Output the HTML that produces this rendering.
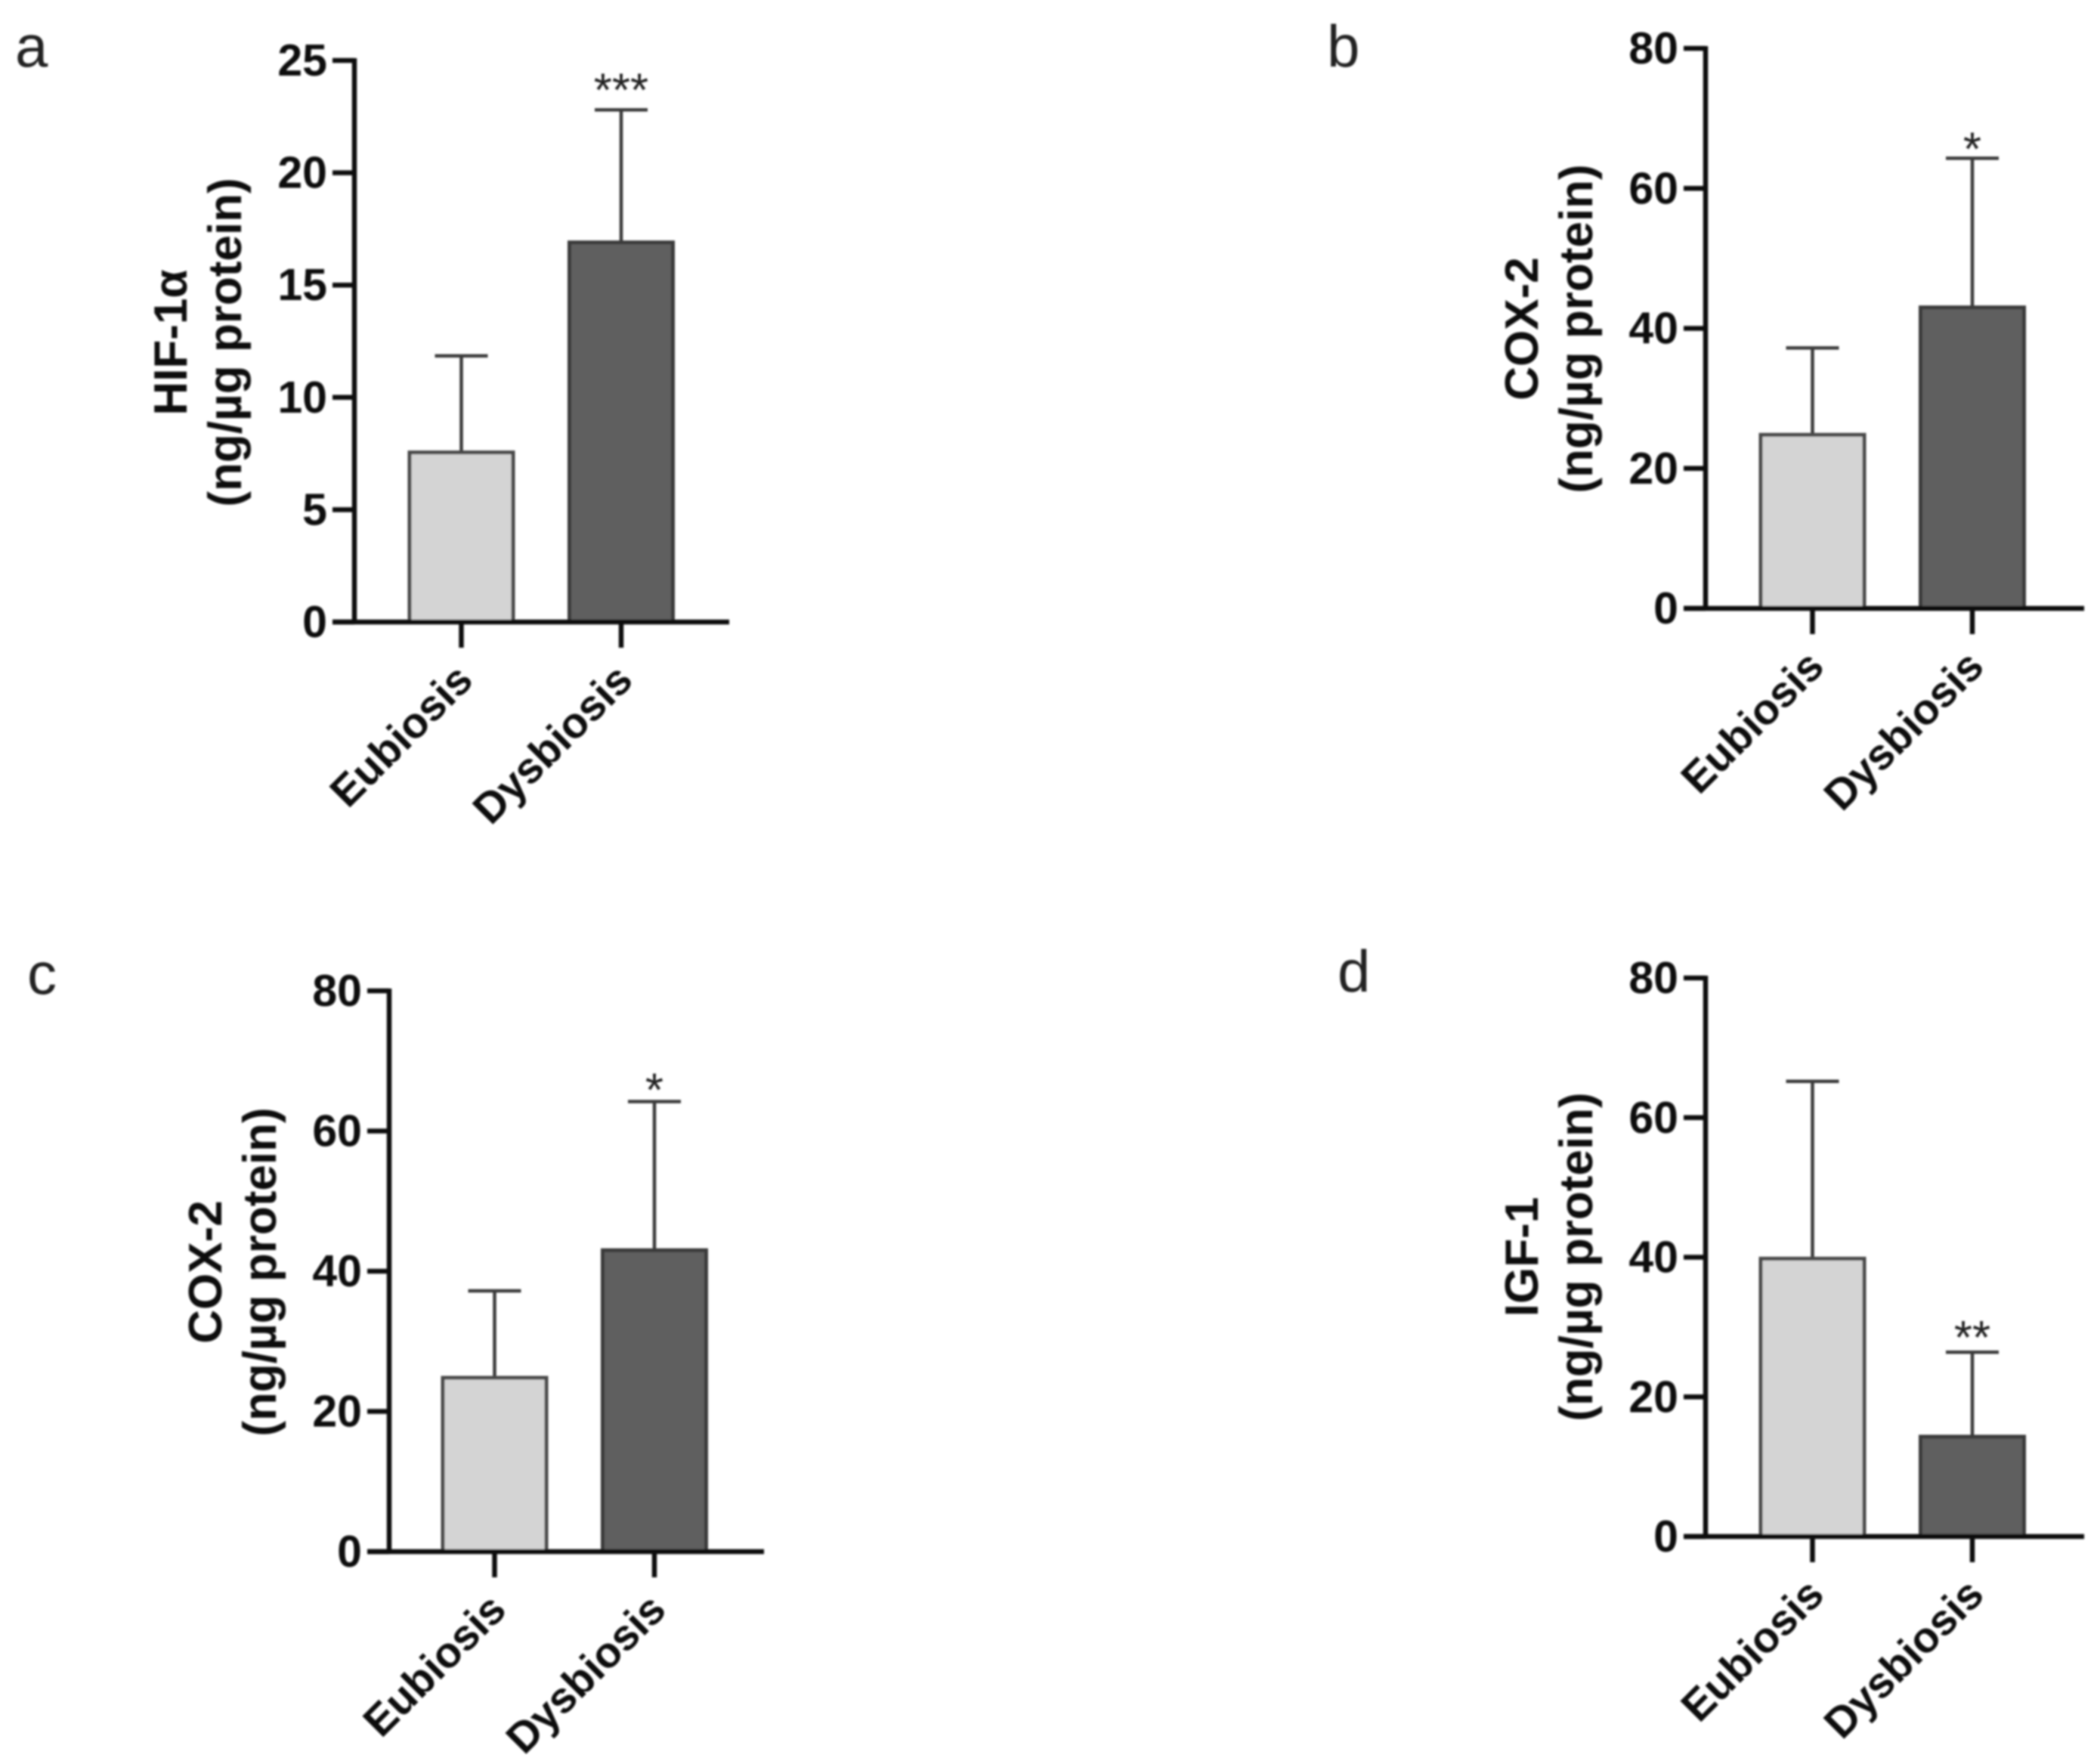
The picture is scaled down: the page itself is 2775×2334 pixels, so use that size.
<!DOCTYPE html>
<html lang="en">
<head>
<meta charset="utf-8">
<title>Eubiosis vs Dysbiosis bar charts</title>
<style>
html,body{margin:0;padding:0;background:#fff;}
svg{display:block;}
text{font-family:"Liberation Sans",sans-serif;}
</style>
</head>
<body>
<svg id="figure" xmlns="http://www.w3.org/2000/svg" width="2775" height="2334" viewBox="0 0 2775 2334">
<defs><filter id="soft" x="-2%" y="-2%" width="104%" height="104%"><feGaussianBlur stdDeviation="1.2"/></filter></defs>
<rect width="2775" height="2334" fill="#fff"/>
<g id="root" filter="url(#soft)"></g>
</svg>
<script>
const categories = ['Eubiosis', 'Dysbiosis'];
const panelLetters = ['a', 'b', 'c', 'd'];
const yTitles = ['HIF-1α', 'COX-2', 'COX-2', 'IGF-1'];
const yUnit = '(ng/µg protein)';
const yTicksA = [0, 5, 10, 15, 20, 25];
const yTicksB = [0, 20, 40, 60, 80];
const yTicksC = [0, 20, 40, 60, 80];
const yTicksD = [0, 20, 40, 60, 80];
const meansA = [7.55, 16.9];
const meansB = [24.8, 43];
const meansC = [24.8, 43];
const meansD = [39.8, 14.3];
const errorTopsA = [11.85, 22.8];
const errorTopsB = [37.2, 64.3];
const errorTopsC = [37.2, 64.2];
const errorTopsD = [65.2, 26.4];
const sigLabelsA = ['', '***'];
const sigLabelsB = ['', '*'];
const sigLabelsC = ['', '*'];
const sigLabelsD = ['', '**'];

const NS = 'http://www.w3.org/2000/svg';
const root = document.getElementById('root');
const frames = [
  {axisX: 469, barShift: 0, y0: 823, yTop: 80, end: 496, letterX: 20, letterY: 88, sigGap: 5, ticks: yTicksA, means: meansA, errs: errorTopsA, sigs: sigLabelsA},
  {axisX: 2257, barShift: 0, y0: 805, yTop: 64, end: 501, letterX: 1756, letterY: 88, sigGap: -9, ticks: yTicksB, means: meansB, errs: errorTopsB, sigs: sigLabelsB},
  {axisX: 515, barShift: -2, y0: 2053, yTop: 1311, end: 496, letterX: 36, letterY: 1315, sigGap: -6, ticks: yTicksC, means: meansC, errs: errorTopsC, sigs: sigLabelsC},
  {axisX: 2257, barShift: 0, y0: 2033, yTop: 1294, end: 501, letterX: 1770, letterY: 1312, sigGap: -2, ticks: yTicksD, means: meansD, errs: errorTopsD, sigs: sigLabelsD}
];
const centerOffsets = [141.5, 353];
const barWidth = 137;
const capWidth = 70;
const barFill = ['#d4d4d4', '#5f5f5f'];
const barStroke = ['#4a4a4a', '#3a3a3a'];

function make(tag, props, parent, txt) {
  const el = document.createElementNS(NS, tag);
  for (const k in props) el.setAttribute(k, props[k]);
  if (txt !== undefined) el.textContent = txt;
  parent.appendChild(el);
  return el;
}

function drawPanel(f, p) {
  const maxV = f.ticks[f.ticks.length - 1];
  const yScale = v => f.y0 - v / maxV * (f.y0 - f.yTop);
  const xScale = i => f.axisX + f.barShift + centerOffsets[i];
  const letter = panelLetters[p];

  const g = make('g', {}, root);
  
  

  const pl = make('text', {x: f.letterX, y: f.letterY, 'font-size': 78, fill: '#222'}, g, letter);
  
  

  categories.forEach((cat, i) => {
    const cx = xScale(i);
    const top = yScale(f.means[i]);
    const errY = yScale(f.errs[i]);

    const stem = make('line', {x1: cx, x2: cx, y1: top, y2: errY, stroke: '#3a3a3a', 'stroke-width': 4.5}, g);
    
    

    const cap = make('line', {x1: cx - capWidth / 2, x2: cx + capWidth / 2, y1: errY, y2: errY, stroke: '#3a3a3a', 'stroke-width': 4.5}, g);
    
    

    const bar = make('rect', {x: cx - barWidth / 2, y: top, width: barWidth, height: f.y0 - top, fill: barFill[i], stroke: barStroke[i], 'stroke-width': 5}, g);
    
    

    if (f.sigs[i]) {
      const sig = make('text', {x: cx, y: errY - f.sigGap, 'text-anchor': 'middle', 'font-size': 62, fill: '#222'}, g, f.sigs[i]);
      
      
    }

    const xt = make('line', {x1: cx, x2: cx, y1: f.y0, y2: f.y0 + 34, stroke: '#111', 'stroke-width': 6.5}, g);
    
    

    const lx = cx + 18, ly = f.y0 + 80;
    const xl = make('text', {x: lx, y: ly, 'text-anchor': 'end', 'font-size': 57, 'font-weight': 700, fill: '#111', transform: 'rotate(-45 ' + lx + ' ' + ly + ')'}, g, cat);
    
    
  });

  const ya = make('line', {x1: f.axisX, x2: f.axisX, y1: f.yTop - 3, y2: f.y0, stroke: '#111', 'stroke-width': 6.5}, g);
  
  

  const xa = make('line', {x1: f.axisX - 29, x2: f.axisX + f.end, y1: f.y0, y2: f.y0, stroke: '#111', 'stroke-width': 6.5}, g);
  
  

  f.ticks.forEach(t => {
    const y = yScale(t);
    const tm = make('line', {x1: f.axisX - 29, x2: f.axisX, y1: y, y2: y, stroke: '#111', 'stroke-width': 6.5}, g);
    
    

    const tl = make('text', {x: f.axisX - 36, y: y + 20, 'text-anchor': 'end', 'font-size': 59, 'font-weight': 700, fill: '#111'}, g, String(t));
    
    
  });

  const titleY = f.y0 - 370;
  const t1x = f.axisX - 222, t2x = f.axisX - 150;
  const t1 = make('text', {x: t1x, y: titleY, 'text-anchor': 'middle', 'font-size': 62, 'font-weight': 700, fill: '#111', transform: 'rotate(-90 ' + t1x + ' ' + titleY + ')'}, g, yTitles[p]);
  
  

  const t2 = make('text', {x: t2x, y: titleY, 'text-anchor': 'middle', 'font-size': 62, 'font-weight': 700, fill: '#111', transform: 'rotate(-90 ' + t2x + ' ' + titleY + ')'}, g, yUnit);
  
  
}

frames.forEach(drawPanel);
</script>
</body>
</html>
